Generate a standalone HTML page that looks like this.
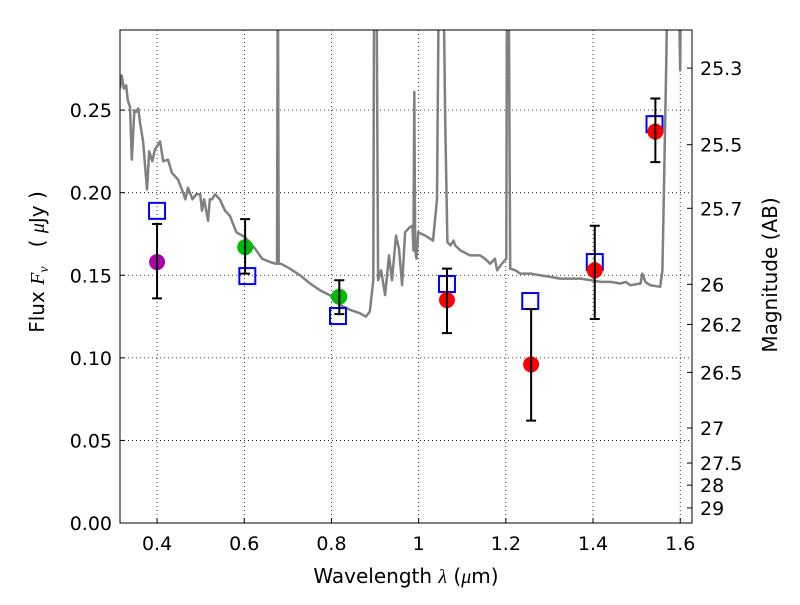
<!DOCTYPE html>
<html><head><meta charset="utf-8"><style>
body{margin:0;background:#fff;}
svg text{font-family:"DejaVu Sans","Liberation Sans",sans-serif;fill:#000;}
</style></head><body>
<svg id="chart" width="800" height="600" viewBox="0 0 800 600" xmlns="http://www.w3.org/2000/svg"></svg>
<script>
const specWl=[0.315,0.319,0.324,0.329,0.333,0.338,0.342,0.348,0.352,0.357,0.361,0.368,0.377,0.382,0.389,0.395,0.407,0.414,0.425,0.434,0.448,0.457,0.465,0.471,0.481,0.490,0.499,0.503,0.508,0.517,0.521,0.526,0.533,0.544,0.556,0.567,0.582,0.602,0.625,0.641,0.659,0.672,0.675,0.677,0.679,0.684,0.705,0.728,0.751,0.773,0.796,0.820,0.843,0.865,0.879,0.888,0.896,0.898,0.903,0.907,0.914,0.923,0.932,0.939,0.948,0.955,0.962,0.969,0.979,0.986,0.988,0.990,0.992,0.995,0.999,1.015,1.033,1.042,1.047,1.051,1.056,1.061,1.066,1.073,1.080,1.084,1.096,1.118,1.141,1.152,1.164,1.175,1.180,1.191,1.201,1.203,1.206,1.210,1.222,1.233,1.257,1.279,1.302,1.325,1.349,1.371,1.394,1.417,1.440,1.463,1.475,1.486,1.509,1.513,1.520,1.531,1.554,1.559,1.563,1.568,1.572,1.595,1.600,1.602,1.604];
const specFlux=[0.263,0.271,0.263,0.265,0.256,0.252,0.220,0.250,0.249,0.251,0.242,0.231,0.202,0.225,0.219,0.226,0.231,0.219,0.220,0.212,0.208,0.202,0.196,0.203,0.196,0.199,0.199,0.189,0.196,0.183,0.196,0.196,0.199,0.196,0.189,0.186,0.176,0.173,0.166,0.160,0.158,0.157,0.157,0.35,0.157,0.157,0.154,0.150,0.145,0.141,0.138,0.132,0.129,0.127,0.125,0.128,0.147,0.35,0.35,0.147,0.153,0.138,0.162,0.147,0.174,0.166,0.144,0.176,0.179,0.180,0.165,0.261,0.165,0.160,0.176,0.174,0.171,0.196,0.35,0.35,0.35,0.244,0.170,0.168,0.171,0.168,0.165,0.162,0.162,0.160,0.157,0.160,0.153,0.157,0.160,0.35,0.35,0.154,0.153,0.151,0.151,0.150,0.149,0.148,0.148,0.148,0.147,0.146,0.146,0.145,0.146,0.144,0.145,0.151,0.146,0.144,0.143,0.153,0.207,0.280,0.35,0.35,0.274,0.35];
const modelWl=[0.400,0.607,0.815,1.065,1.256,1.404,1.541];
const modelFlux=[0.189,0.1495,0.1253,0.1447,0.1344,0.158,0.2415];
const obsWl=[0.400,0.602,0.818,1.065,1.258,1.404,1.543];
const obsFlux=[0.158,0.167,0.137,0.135,0.096,0.153,0.237];
const obsHi=[0.181,0.184,0.147,0.154,0.1295,0.180,0.257];
const obsLo=[0.136,0.151,0.1265,0.115,0.062,0.1235,0.2185];
const obsColors=["#aa00aa","#00bb00","#00bb00","#ff0000","#ff0000","#ff0000","#ff0000"];
const xTicks=[0.4,0.6,0.8,1.0,1.2,1.4,1.6];
const xTickLabels=["0.4","0.6","0.8","1","1.2","1.4","1.6"];
const yTicks=[0,0.05,0.10,0.15,0.20,0.25];
const yTickLabels=["0.00","0.05","0.10","0.15","0.20","0.25"];
const magTicks=[25.3,25.5,25.7,26,26.2,26.5,27,27.5,28,29];

const L=120,R=692,T=30,B=523;
const xMin=0.315,xMax=1.627,yMin=0,yMax=0.2985;
const xs=v=>L+(v-xMin)/(xMax-xMin)*(R-L);
const ys=v=>B-(v-yMin)/(yMax-yMin)*(B-T);
const NS="http://www.w3.org/2000/svg";
const svg=document.getElementById('chart');
function mk(tag,attrs,parent){const e=document.createElementNS(NS,tag);for(const k in attrs)e.setAttribute(k,attrs[k]);(parent||svg).appendChild(e);return e;}

const defs=mk('defs',{});
const cp=mk('clipPath',{id:'plotclip'},defs);
mk('rect',{x:L,y:T,width:R-L,height:B-T},cp);

xTicks.forEach((t,i)=>{
  const g=mk('line',{x1:xs(t),x2:xs(t),y1:T,y2:B,stroke:'#000','stroke-width':0.8,'stroke-dasharray':'1,3'});
  
  
  const tk=mk('line',{x1:xs(t),x2:xs(t),y1:B,y2:B-5,stroke:'#000'});
  
  
  const tx=mk('text',{x:xs(t),y:B+27,'font-size':19,'text-anchor':'middle'});
  tx.textContent=xTickLabels[i];
  
  
});
yTicks.forEach((t,i)=>{
  const g=mk('line',{x1:L,x2:R,y1:ys(t),y2:ys(t),stroke:'#000','stroke-width':0.8,'stroke-dasharray':'1,3'});
  
  
  const tk=mk('line',{x1:L,x2:L+5,y1:ys(t),y2:ys(t),stroke:'#000'});
  
  
  const tx=mk('text',{x:L-8,y:ys(t)+7,'font-size':19,'text-anchor':'end'});
  tx.textContent=yTickLabels[i];
  
  
});
magTicks.forEach(m=>{
  const f=Math.pow(10,(23.9-m)/2.5);
  const tk=mk('line',{x1:R,x2:R-5,y1:ys(f),y2:ys(f),stroke:'#000'});
  
  
  const tx=mk('text',{x:R+8,y:ys(f)+7,'font-size':19});
  tx.textContent=String(m);
  
  
});

const pg=mk('g',{'clip-path':'url(#plotclip)'});
const d=specWl.map((w,i)=>(i?'L':'M')+xs(w).toFixed(1)+','+ys(specFlux[i]).toFixed(1)).join(' ');
const sp=mk('path',{d:d,fill:'none',stroke:'#808080','stroke-width':2.5,'stroke-linejoin':'round'},pg);



modelWl.forEach((w,i)=>{
  const s=mk('rect',{x:xs(w)-8,y:ys(modelFlux[i])-8,width:16,height:16,fill:'none',stroke:'#0000ff','stroke-width':2},pg);
  
  
});
obsWl.forEach((w,i)=>{
  const x=xs(w);
  const c=mk('circle',{cx:x,cy:ys(obsFlux[i]),r:8,fill:obsColors[i]},pg);
  
  
  const e=mk('path',{d:`M${x},${ys(obsHi[i])}V${ys(obsLo[i])}M${x-5},${ys(obsHi[i])}H${x+5}M${x-5},${ys(obsLo[i])}H${x+5}`,stroke:'#000','stroke-width':2,fill:'none'},pg);
  
  
});

const fr=mk('rect',{x:L,y:T,width:R-L,height:B-T,fill:'none',stroke:'#000','stroke-width':1});



const xl=mk('text',{x:406,y:583,'font-size':20,'text-anchor':'middle'});
xl.innerHTML='Wavelength  <tspan font-family="Liberation Serif" font-style="italic">λ</tspan> (<tspan font-family="Liberation Serif" font-style="italic">μ</tspan>m)';


const yl=mk('text',{x:0,y:0,'font-size':20,'text-anchor':'middle',transform:'translate(44,262) rotate(-90)'});
yl.innerHTML='Flux  <tspan font-family="Liberation Serif" font-style="italic">F</tspan><tspan font-family="Liberation Serif" font-style="italic" font-size="14" dy="4">ν</tspan><tspan dy="-4" xml:space="preserve">   ( </tspan><tspan font-family="Liberation Serif" font-style="italic">μ</tspan>Jy )';


const rl=mk('text',{x:0,y:0,'font-size':20,'text-anchor':'middle',transform:'translate(777,275) rotate(-90)'});
rl.textContent='Magnitude (AB)';


</script>
</body></html>
